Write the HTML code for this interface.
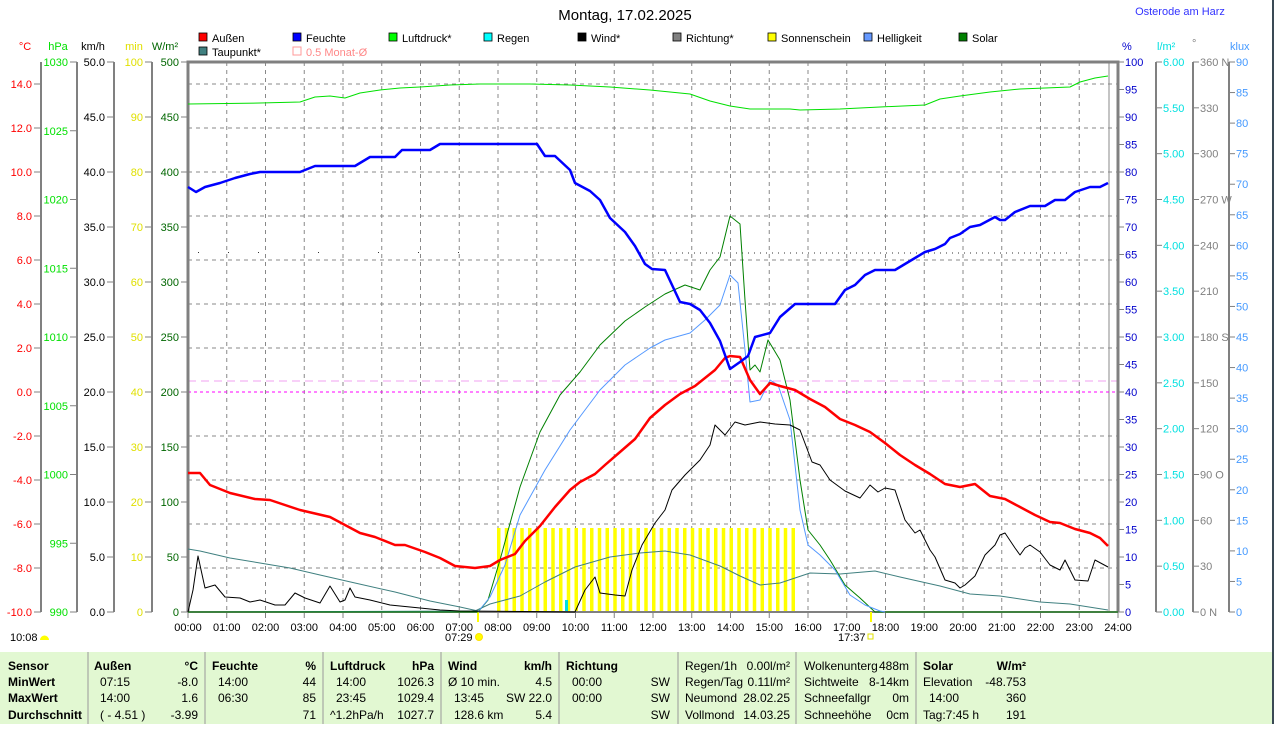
<!DOCTYPE html>
<html><head><meta charset="utf-8"><style>
body{margin:0;background:#fff;width:1274px;height:724px;overflow:hidden;font-family:"Liberation Sans",sans-serif}
svg text{font-family:"Liberation Sans",sans-serif;font-size:11px}
</style></head><body>
<svg id="s" width="1274" height="724" xmlns="http://www.w3.org/2000/svg">
<rect x="0" y="0" width="1274" height="724" fill="#fff"/>
<rect x="1272" y="0" width="2" height="724" fill="#3a4a55"/>
<text x="625" y="20" text-anchor="middle" style="font-size:15px">Montag, 17.02.2025</text>
<text x="1180" y="15" text-anchor="middle" fill="#3333ff">Osterode am Harz</text>
<g id="g"></g>
<rect x="0" y="652" width="1272" height="72" fill="#e2f8d2"/>
<g id="t"></g>
</svg>
<script>
const NS="http://www.w3.org/2000/svg",g=document.getElementById('g'),tb=document.getElementById('t');
function el(p,n,a,txt){const e=document.createElementNS(NS,n);for(const k in a)e.setAttribute(k,a[k]);if(txt!==undefined)e.textContent=txt;p.appendChild(e);return e;}
function T(x,y,s,fill,anchor,extra){const a={x:x,y:y,fill:fill||'#000'};if(anchor)a['text-anchor']=anchor;Object.assign(a,extra||{});return el(g,'text',a,s);}
function L(x1,y1,x2,y2,st,w,da){const a={x1,y1,x2,y2,stroke:st,'stroke-width':w||1};if(da)a['stroke-dasharray']=da;return el(g,'line',a);}
const X0=188,X1=1118,Y0=62,Y1=612;
for(let h=1;h<24;h++){const x=X0+h*38.75;L(x,Y0,x,Y1,'#888',1,'4,4');}
L(1109,Y0,1109,Y1,'#888',1);
for(let i=0;i<12;i++){const y=84+i*44;if(y==392)continue;L(X0,y,X1,y,'#888',1,'4,4');}
L(X0,381,X1,381,'#f0a0f0',1,'8,5');
L(X0,392,X1,392,'#ff00ff',1,'3,3');
L(640,253,1070,253,'#333',1,'1,5');
[198,228,258,318,378,418,458].forEach(x=>el(g,'rect',{x:x,y:252,width:1,height:1,fill:'#333'}));
for(let x=497;x<792;x+=7.75){el(g,'rect',{x:x,y:528,width:3.5,height:84,fill:'#ffff00'});}
el(g,'rect',{x:565,y:600,width:3,height:12,fill:'#00e0e0'});
el(g,'polyline',{points:`${X0},${Y1} ${X0},${Y0} ${X1},${Y0} ${X1},${Y1}`,fill:'none',stroke:'#808080','stroke-width':3});
L(X0,Y1,X1,Y1,'#808080',2);
const axes=[
 {x:41,from:14,to:-10,step:2,y0:84,dy:44,fmt:v=>v.toFixed(1),col:'#ff0000'},
 {x:77,from:1030,to:990,step:5,y0:62,dy:68.75,fmt:v=>v,col:'#00e000'},
 {x:114,from:50,to:0,step:5,y0:62,dy:55,fmt:v=>v.toFixed(1),col:'#000'},
 {x:152,from:100,to:0,step:10,y0:62,dy:55,fmt:v=>v,col:'#e0e000'},
 {x:188,from:500,to:0,step:50,y0:62,dy:55,fmt:v=>v,col:'#006600'}];
axes.forEach(a=>{L(a.x,62,a.x,612,'#808080',2);let i=0;for(let v=a.from;v>=a.to-1e-9;v-=a.step,i++){const y=a.y0+i*a.dy;L(a.x-7,y,a.x,y,'#808080',1);T(a.x-9,y+4,a.fmt(v),a.col,'end');}});
T(25,50,'°C','#ff0000','middle');T(58,50,'hPa','#00e000','middle');T(93,50,'km/h','#000','middle');T(134,50,'min','#e0e000','middle');T(165,50,'W/m²','#006600','middle');
function RA(x,from,to,step,dy,fmt,col,line){if(line)L(x,62,x,612,'#808080',2);let i=0;for(let v=from;v>=to-1e-9;v-=step,i++){const y=62+i*dy;L(x,y,x+6,y,'#808080',1);T(x+7,y+4,fmt(v,i),col);}}
RA(1118,100,0,5,27.5,v=>v,'#0000cc',false);
RA(1156,6,0,0.5,45.833,v=>v.toFixed(2),'#00e0e0',true);
const dirs={0:' N',90:' O',180:' S',270:' W',360:' N'};
RA(1193,360,0,30,45.833,v=>v+(dirs[v]||''),'#808080',true);
RA(1229,90,0,5,30.556,v=>v,'#4499ff',true);
T(1122,50,'%','#0000cc');T(1157,50,'l/m²','#00e0e0');T(1192,47,'°','#808080');T(1230,50,'klux','#4499ff');
for(let h=0;h<=24;h++){const x=X0+h*38.75;L(x,612,x,618,'#808080',1);T(x,631,(h<10?'0':'')+h+':00','#000','middle');}
T(445,641,'07:29');el(g,'circle',{cx:479,cy:637,r:3.5,fill:'#ffff00',stroke:'#ffe000'});L(478,612,478,622,'#ffff00',2);
T(838,641,'17:37');el(g,'rect',{x:868,y:634,width:5,height:5,fill:'none',stroke:'#e0e000'});L(871,612,871,622,'#ffff00',2);
T(10,641,'10:08');el(g,'path',{d:'M40,640 a4,4 0 0 1 9,0 z',fill:'#ffff00'});
const leg=[[199,38,'#ff0000','Außen'],[293,38,'#0000ff','Feuchte'],[389,38,'#00ff00','Luftdruck*'],[484,38,'#00ffff','Regen'],[578,38,'#000','Wind*'],[673,38,'#808080','Richtung*'],[768,38,'#ffff00','Sonnenschein'],[864,38,'#6699ff','Helligkeit'],[959,38,'#008000','Solar'],[199,52,'#408080','Taupunkt*']];
leg.forEach(l=>{el(g,'rect',{x:l[0],y:l[1]-5,width:8,height:8,fill:l[2],stroke:'#000','stroke-width':0.8});T(l[0]+13,l[1]+4,l[3]);});
el(g,'rect',{x:293,y:47,width:8,height:8,fill:'none',stroke:'#ff9999'});T(306,56,'0.5 Monat-Ø','#ff8888');
function P(pts,col,w){el(g,'polyline',{points:pts,fill:'none',stroke:col,'stroke-width':w,'stroke-linejoin':'round'});}
P('188,104 260,103 300,102 315,97 330,96 345,98 360,93 380,90 400,88 420,87 450,85 480,84 530,84 570,85 610,87 650,90 690,94 710,101 730,106 750,109 790,109 800,110 840,109 880,107 925,105 940,99 960,96 990,92 1020,89 1070,87 1080,82 1095,78 1108,76','#00e000',1);
P('188,612 475,611 490,604 520,596 545,582 575,567 610,557 640,553 665,551 690,555 720,566 740,576 760,585 780,583 810,573 840,574 875,571 900,577 940,586 970,594 1000,596 1040,602 1070,604 1108,610','#408080',1);
P('188,549 200,551 230,558 260,563 290,568 320,575 355,583 395,592 430,601 460,607 478,611','#408080',1);
P('188,612 478,612 488,600 500,560 520,487 540,432 560,395 580,372 600,345 625,321 645,307 665,294 685,285 700,290 710,270 720,257 730,216 740,224 745,300 750,370 755,365 760,372 768,340 780,360 790,400 800,480 808,530 820,545 830,560 845,585 860,598 875,612 1118,612','#008000',1);
P('478,612 490,597 505,565 520,515 545,470 570,430 600,390 625,365 650,348 665,340 690,333 705,320 720,305 730,275 738,283 745,350 750,402 760,400 770,380 778,385 790,420 800,510 808,545 820,555 835,570 850,595 865,605 880,611 885,612','#5599ff',1);
P('188,612 193,590 198,556 205,588 215,585 225,597 240,598 250,602 260,600 275,605 285,605 295,593 305,598 320,603 330,586 340,602 345,600 350,588 355,597 370,600 390,605 410,607 440,610 460,611 575,612 585,590 595,577 600,593 615,595 625,596 632,570 642,545 655,523 665,510 672,490 685,475 700,460 710,445 715,425 725,435 735,422 745,425 760,422 775,424 790,425 800,430 812,462 820,465 830,480 845,491 860,498 870,485 878,492 885,488 895,490 905,520 915,533 920,530 930,550 935,557 945,580 955,583 960,588 965,585 975,576 985,555 995,545 1000,535 1005,533 1015,548 1020,555 1025,548 1030,545 1040,552 1050,565 1060,570 1065,560 1075,580 1088,581 1095,560 1108,567','#000',1);
P('188,473 200,473 210,485 230,493 255,499 270,500 300,510 330,517 345,525 360,533 375,537 395,545 405,545 425,552 440,558 455,566 475,568 490,566 500,560 515,554 525,541 540,526 555,507 570,490 580,482 595,474 605,465 620,452 635,439 650,418 665,405 680,394 695,386 710,374 715,370 725,358 730,356 740,357 750,380 760,394 770,383 780,386 795,390 810,399 825,407 840,419 855,425 870,432 885,443 900,455 915,465 930,474 945,484 960,487 975,484 990,496 1005,499 1020,507 1035,515 1050,522 1060,523 1075,529 1090,533 1100,538 1108,546','#ff0000',2.5);
P('188,187 196,192 205,187 220,183 235,178 250,174 260,172 300,172 315,166 355,166 370,157 395,157 402,150 430,150 440,144 537,144 545,156 555,156 570,170 575,183 590,191 600,200 610,218 625,232 635,246 645,264 652,269 665,270 680,302 690,304 700,310 710,323 720,341 730,369 740,362 748,356 755,337 770,333 780,317 795,304 835,304 845,290 855,285 865,275 875,270 895,270 905,264 915,258 925,252 935,249 945,244 950,238 960,234 970,227 980,225 995,217 1000,220 1005,220 1015,212 1030,206 1045,206 1055,200 1065,200 1075,192 1090,187 1100,187 1108,183','#0000ff',2.5);
[88,205,323,441,559,678,796,916].forEach(x=>el(tb,'line',{x1:x,y1:652,x2:x,y2:724,stroke:'#999','stroke-width':1}));
const rows=[670,686,702,719];
function TT(x,r,s,anchor,bold){const a={x:x,y:rows[r],style:'font-size:12px'+(bold?';font-weight:bold':'')};if(anchor)a['text-anchor']=anchor;el(tb,'text',a,s);}
['Sensor','MinWert','MaxWert','Durchschnitt'].forEach((s,i)=>TT(8,i,s,null,true));
TT(94,0,'Außen',null,true);TT(198,0,'°C','end',true);TT(212,0,'Feuchte',null,true);TT(316,0,'%','end',true);
TT(330,0,'Luftdruck',null,true);TT(434,0,'hPa','end',true);TT(448,0,'Wind',null,true);TT(552,0,'km/h','end',true);TT(566,0,'Richtung',null,true);
TT(100,1,'07:15');TT(198,1,'-8.0','end');TT(100,2,'14:00');TT(198,2,'1.6','end');TT(100,3,'( - 4.51 )');TT(198,3,'-3.99','end');
TT(218,1,'14:00');TT(316,1,'44','end');TT(218,2,'06:30');TT(316,2,'85','end');TT(316,3,'71','end');
TT(336,1,'14:00');TT(434,1,'1026.3','end');TT(336,2,'23:45');TT(434,2,'1029.4','end');TT(330,3,'^1.2hPa/h');TT(434,3,'1027.7','end');
TT(448,1,'Ø 10 min.');TT(552,1,'4.5','end');TT(454,2,'13:45');TT(552,2,'SW 22.0','end');TT(454,3,'128.6 km');TT(552,3,'5.4','end');
TT(572,1,'00:00');TT(572,2,'00:00');TT(670,1,'SW','end');TT(670,2,'SW','end');TT(670,3,'SW','end');
TT(685,0,'Regen/1h');TT(790,0,'0.00l/m²','end');TT(685,1,'Regen/Tag');TT(790,1,'0.11l/m²','end');TT(685,2,'Neumond');TT(790,2,'28.02.25','end');TT(685,3,'Vollmond');TT(790,3,'14.03.25','end');
TT(804,0,'Wolkenunterg');TT(909,0,'488m','end');TT(804,1,'Sichtweite');TT(909,1,'8-14km','end');TT(804,2,'Schneefallgr');TT(909,2,'0m','end');TT(804,3,'Schneehöhe');TT(909,3,'0cm','end');
TT(923,0,'Solar',null,true);TT(1026,0,'W/m²','end',true);TT(923,1,'Elevation');TT(1026,1,'-48.753','end');TT(929,2,'14:00');TT(1026,2,'360','end');TT(923,3,'Tag:7:45 h');TT(1026,3,'191','end');
</script>
</body></html>
